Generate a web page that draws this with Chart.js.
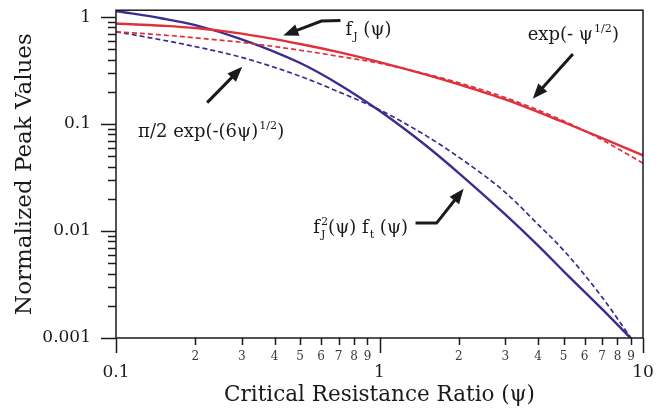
<!DOCTYPE html>
<html>
<head>
<meta charset="utf-8">
<script src="https://cdn.jsdelivr.net/npm/chart.js@4.4.1/dist/chart.umd.min.js"></script>
<style>
  html, body { margin: 0; padding: 0; background: #fff; }
  #wrap { width: 671px; height: 411px; }
</style>
</head>
<body>
<div id="wrap"><canvas id="peakChart"></canvas></div>
<script>
// Normalized peak values vs critical resistance ratio (log-log)
const RED = '#e0303a';
const BLUE = '#3b2d8e';
const INK = '#1a1a1a';
const SERIF = '"DejaVu Serif", serif';

// values
const psiRed = [0.1, 0.15, 0.2, 0.3, 0.5, 0.7, 1, 1.5, 2, 3, 5, 7, 10];
const fJ = [0.87, 0.83, 0.79, 0.70, 0.56, 0.47, 0.38, 0.29, 0.235, 0.170, 0.104, 0.074, 0.051];
const expSqrt = [0.73, 0.68, 0.64, 0.58, 0.49, 0.43, 0.37, 0.294, 0.243, 0.177, 0.107, 0.071, 0.043];

const psiBlue = [0.1, 0.15, 0.2, 0.3, 0.5, 0.7, 1, 1.5, 2, 3, 4, 5, 7, 9];
const fJ2ft = [1.14, 0.97, 0.84, 0.62, 0.372, 0.236, 0.133, 0.063, 0.0348, 0.0143, 0.0073, 0.0042, 0.00186, 0.00099];
const piExp = [0.73, 0.61, 0.53, 0.42, 0.28, 0.20, 0.136, 0.078, 0.049, 0.023, 0.0115, 0.0066, 0.0024, 0.001];

// tick labels
const yLabels = ['0.001', '0.01', '0.1', '1'];
const xLabels = ['0.1', '1', '10'];
const xMinorDigits = [2, 3, 4, 5, 6, 7, 8, 9];

// curve notes, anchored in data coordinates [psi, value]
const notes = [
  { at: [0.743, 0.68], parts: [['f'], ['J', 'sub'], [' (ψ)']] },
  { at: [3.65, 0.611], parts: [['exp(- ψ'], ['1/2', 'sup'], [')']] },
  { at: [0.1213, 0.0765], parts: [['π/2 exp(-(6ψ)'], ['1/2', 'sup'], [')']] },
  { at: [0.561, 0.00958], parts: [['f'], ['J', 'subsup', '2'], ['(ψ) f'], ['t', 'sub'], [' (ψ)']] },
];
const arrows = [
  [[0.711, 0.928], [0.602, 0.918], [0.4315, 0.673]],
  [[5.42, 0.4527], [3.817, 0.1727]],
  [[0.2218, 0.1585], [0.3013, 0.3426]],
  [[1.37, 0.01187], [1.647, 0.01187], [2.086, 0.02485]],
];

function toPoints(xs, ys) {
  return xs.map((x, i) => ({ x: x, y: ys[i] }));
}

function decade(v) {
  const e = Math.floor(Math.log10(v) + 1e-9);
  const s = v / Math.pow(10, e);
  const r = Math.round(s);
  if (Math.abs(s - r) > 1e-6) return null;
  return { sig: r, major: r === 1 };
}

function sameValue(v, label) {
  const L = parseFloat(label);
  return Math.abs(v - L) / L < 1e-6;
}

// 1..9 x 10^n positions inside the scale range
function logMarks(scale) {
  const out = [];
  const lo = Math.floor(Math.log10(scale.min) + 1e-9);
  const hi = Math.ceil(Math.log10(scale.max) - 1e-9);
  for (let e = lo; e <= hi; e++) {
    for (let k = 1; k <= 9; k++) {
      const v = k * Math.pow(10, e);
      if (v >= scale.min * (1 - 1e-9) && v <= scale.max * (1 + 1e-9)) out.push({ v: v, major: k === 1 });
    }
  }
  return out;
}

function drawRich(ctx, x, y, parts, size) {
  const small = size * 0.62;
  parts.forEach(([txt, kind, txt2]) => {
    if (!kind) {
      ctx.font = size + 'px ' + SERIF;
      ctx.fillText(txt, x, y);
      x += ctx.measureText(txt).width;
    } else {
      ctx.font = small + 'px ' + SERIF;
      let w = 0;
      if (kind === 'sub' || kind === 'subsup') {
        ctx.fillText(txt, x + 1, y + size * 0.28);
        w = ctx.measureText(txt).width + 1;
      }
      if (kind === 'sup') {
        ctx.fillText(txt, x + 1, y - size * 0.42);
        w = ctx.measureText(txt).width + 1;
      }
      if (kind === 'subsup') {
        ctx.fillText(txt2, x + 1, y - size * 0.42);
        w = Math.max(w, ctx.measureText(txt2).width + 1);
      }
      x += w;
    }
  });
}

function drawArrow(ctx, pts) {
  const n = pts.length;
  const [tx, ty] = pts[n - 1];
  const [bx, by] = pts[n - 2];
  const a = Math.atan2(ty - by, tx - bx);
  const L = 15, W = 6;
  const baseX = tx - L * Math.cos(a), baseY = ty - L * Math.sin(a);
  ctx.beginPath();
  ctx.moveTo(pts[0][0], pts[0][1]);
  for (let i = 1; i < n - 1; i++) ctx.lineTo(pts[i][0], pts[i][1]);
  ctx.lineTo(baseX + 2 * Math.cos(a), baseY + 2 * Math.sin(a));
  ctx.stroke();
  ctx.beginPath();
  ctx.moveTo(tx, ty);
  ctx.lineTo(baseX - W * Math.sin(a), baseY + W * Math.cos(a));
  ctx.lineTo(baseX + W * Math.sin(a), baseY - W * Math.cos(a));
  ctx.closePath();
  ctx.fill();
}

const decor = {
  id: 'decor',
  afterDraw(chart) {
    const { ctx, chartArea: a } = chart;
    const x = chart.scales.x;
    const y = chart.scales.y;
    ctx.save();
    ctx.strokeStyle = INK;
    ctx.fillStyle = INK;

    // frame
    ctx.lineWidth = 1.5;
    ctx.strokeRect(a.left, a.top, a.right - a.left, a.bottom - a.top);

    // tick marks, long for decades, short between
    logMarks(x).forEach((t) => {
      const px = Math.round(x.getPixelForValue(t.v)) + 0.5;
      ctx.beginPath();
      ctx.moveTo(px, a.bottom);
      ctx.lineTo(px, a.bottom + (t.major ? 15 : 7));
      ctx.stroke();
    });
    logMarks(y).forEach((t) => {
      const py = Math.round(y.getPixelForValue(t.v)) + 0.5;
      ctx.beginPath();
      ctx.moveTo(a.left, py);
      ctx.lineTo(a.left - (t.major ? 15 : 8), py);
      ctx.stroke();
    });

    // notes and arrows
    ctx.textBaseline = 'alphabetic';
    ctx.textAlign = 'left';
    notes.forEach((n) => {
      drawRich(ctx, x.getPixelForValue(n.at[0]), y.getPixelForValue(n.at[1]), n.parts, 18);
    });
    ctx.lineWidth = 3;
    arrows.forEach((ar) => {
      drawArrow(ctx, ar.map(([u, v]) => [x.getPixelForValue(u), y.getPixelForValue(v)]));
    });
    ctx.restore();
  },
};

const el = document.getElementById('peakChart');

new Chart(el, {
  type: 'line',
  data: {
    datasets: [
      {
        label: 'exp(-ψ^1/2)',
        data: toPoints(psiRed, expSqrt),
        borderColor: RED,
        borderWidth: 1.7,
        borderDash: [5, 3],
      },
      {
        label: 'fJ(ψ)',
        data: toPoints(psiRed, fJ),
        borderColor: RED,
        borderWidth: 2.4,
      },
      {
        label: 'π/2 exp(-(6ψ)^1/2)',
        data: toPoints(psiBlue, piExp),
        borderColor: BLUE,
        borderWidth: 1.7,
        borderDash: [5, 3],
      },
      {
        label: 'fJ²(ψ) ft(ψ)',
        data: toPoints(psiBlue, fJ2ft),
        borderColor: BLUE,
        borderWidth: 2.4,
      },
    ],
  },
  options: {
    responsive: true,
    maintainAspectRatio: false,
    animation: false,
    events: [],
    layout: { padding: { top: 8, right: 28, left: 0, bottom: 0 } },
    elements: {
      point: { radius: 0 },
      line: { cubicInterpolationMode: 'monotone', fill: false },
    },
    plugins: {
      legend: { display: false },
      tooltip: { enabled: false },
    },
    scales: {
      x: {
        type: 'logarithmic',
        position: 'bottom',
        min: 0.1,
        max: 10,
        grid: { display: false, drawTicks: true, tickLength: 12 },
        border: { display: false },
        afterFit: (s) => { s.height = 22; },
        ticks: {
          autoSkip: false,
          maxRotation: 0,
          padding: 0,
          color: '#3a3a3a',
          font: { family: SERIF, size: 12 },
          callback: (v) => {
            const d = decade(v);
            return d && xMinorDigits.includes(d.sig) ? String(d.sig) : null;
          },
        },
      },
      x2: {
        type: 'logarithmic',
        position: 'bottom',
        min: 0.1,
        max: 10,
        grid: { display: false, drawTicks: true, tickLength: 2 },
        border: { display: false },
        afterFit: (s) => { s.height = 51; },
        ticks: {
          autoSkip: false,
          maxRotation: 0,
          padding: 0,
          color: INK,
          font: { family: SERIF, size: 17 },
          callback: (v) => {
            const hit = xLabels.find((l) => sameValue(v, l));
            return hit || null;
          },
        },
        title: {
          display: true,
          text: 'Critical Resistance Ratio (ψ)',
          color: INK,
          font: { family: SERIF, size: 21.5 },
          padding: { top: 0, bottom: 3 },
        },
      },
      y: {
        type: 'logarithmic',
        min: 0.001,
        max: 1.16,
        grid: { display: false, drawTicks: true, tickLength: 25 },
        border: { display: false },
        afterFit: (s) => { s.width = 116; },
        ticks: {
          autoSkip: false,
          padding: 0,
          color: INK,
          font: { family: SERIF, size: 17 },
          callback: (v) => {
            const hit = yLabels.find((l) => sameValue(v, l));
            return hit || null;
          },
        },
        title: {
          display: true,
          text: 'Normalized Peak Values',
          color: INK,
          font: { family: SERIF, size: 23 },
          padding: { top: 11, bottom: 0 },
        },
      },
    },
  },
  plugins: [decor],
});
</script>
</body>
</html>
